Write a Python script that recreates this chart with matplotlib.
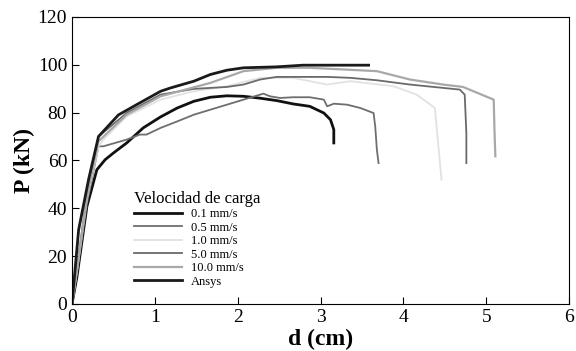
"""Curvas carga-desplazamiento para distintas velocidades de carga."""

import matplotlib

matplotlib.use("Agg")
import matplotlib.pyplot as plt  # noqa: E402

plt.rcParams["font.family"] = ["Liberation Serif", "DejaVu Serif"]

# 0.1 mm/s
d_01 = [0, 0.06, 0.18, 0.30, 0.40, 0.50, 0.66, 0.86, 1.07, 1.27, 1.47, 1.67, 1.87,
        2.07, 2.27, 2.47, 2.67, 2.87, 3.04, 3.12, 3.16, 3.16]
p_01 = [0, 11.4, 40.8, 56.1, 60.3, 63.1, 67.3, 73.6, 78.2, 81.9, 84.7, 86.4, 87.0,
        86.8, 86.0, 85.0, 83.6, 82.6, 79.8, 77.0, 72.9, 67.3]

# 0.5 mm/s
d_05 = [0, 0.06, 0.18, 0.32, 0.38, 0.66, 0.82, 0.90, 1.07, 1.27, 1.47, 1.67, 1.87,
        2.07, 2.31, 2.39, 2.51, 2.67, 2.87, 3.04, 3.08, 3.16, 3.32, 3.48, 3.64,
        3.66, 3.68, 3.70]
p_05 = [0, 13.0, 42.0, 65.9, 65.9, 68.7, 70.8, 70.8, 73.6, 76.3, 79.1, 81.2, 83.3,
        85.4, 87.9, 86.8, 86.1, 86.4, 86.4, 85.4, 82.6, 83.7, 83.3, 81.9, 79.8,
        74.2, 64.5, 58.9]

# 1.0 mm/s
d_10 = [0, 0.06, 0.18, 0.32, 0.38, 0.66, 1.07, 1.47, 1.87, 2.27, 2.67, 3.08, 3.36,
        3.88, 4.16, 4.38, 4.46]
p_10 = [0, 14.0, 44.0, 65.9, 68.7, 78.4, 85.4, 88.9, 91.0, 94.5, 94.5, 91.7, 93.1,
        91.0, 87.5, 81.9, 51.9]

# 5.0 mm/s
d_50 = [0, 0.06, 0.18, 0.32, 0.66, 1.07, 1.47, 1.87, 2.07, 2.27, 2.47, 3.08, 3.36,
        3.68, 4.08, 4.48, 4.68, 4.74, 4.76, 4.76]
p_50 = [0, 15.0, 46.0, 70.0, 79.8, 87.5, 89.9, 90.7, 91.7, 93.8, 94.9, 94.9, 94.5,
        93.5, 91.7, 90.3, 89.6, 87.5, 71.5, 58.9]

# 10.0 mm/s
d_100 = [0, 0.06, 0.18, 0.32, 0.66, 1.07, 1.67, 2.07, 2.47, 2.87, 3.28, 3.68, 4.08,
         4.48, 4.72, 5.09, 5.10, 5.11]
p_100 = [0, 14.0, 45.0, 68.0, 79.1, 86.8, 92.4, 97.3, 98.7, 98.7, 98.0, 97.3, 93.8,
         91.7, 90.7, 85.4, 72.0, 61.7]

# Ansys
d_ans = [0, 0.08, 0.20, 0.32, 0.56, 0.78, 1.07, 1.19, 1.47, 1.67, 1.87, 2.07, 2.47,
         2.79, 3.58]
p_ans = [0, 31.0, 52.0, 70.0, 79.0, 83.3, 88.9, 90.3, 93.1, 95.9, 97.7, 98.7, 99.1,
         99.8, 99.8]

series = [
    ("0.1 mm/s", d_01, p_01, "#111111", 2.0),
    ("0.5 mm/s", d_05, p_05, "#6e6e6e", 1.3),
    ("1.0 mm/s", d_10, p_10, "#e2e2e2", 1.3),
    ("5.0 mm/s", d_50, p_50, "#6a6a6a", 1.3),
    ("10.0 mm/s", d_100, p_100, "#a8a8a8", 1.6),
    ("Ansys", d_ans, p_ans, "#1a1a1a", 2.0),
]

fig = plt.figure(figsize=(5.76, 3.51), dpi=100)
ax = fig.add_axes([0.125, 0.134, 0.863, 0.818])

for label, d, p, color, lw in series:
    ax.plot(d, p, color=color, linewidth=lw, label=label)

ax.set_xlim(0, 6)
ax.set_ylim(0, 120)
ax.set_xticks(range(0, 7))
ax.set_yticks(range(0, 121, 20))
ax.tick_params(direction="in", labelsize=14, length=5)
ax.set_xlabel("d (cm)", fontsize=17, fontweight="bold", labelpad=2)
ax.set_ylabel("P (kN)", fontsize=17, fontweight="bold", labelpad=2)

leg = ax.legend(title="Velocidad de carga", loc="upper left", bbox_to_anchor=(0.124, 0.395),
                frameon=False, fontsize=9, title_fontsize=12, handlelength=3.9,
                handletextpad=0.7, labelspacing=0.12, borderpad=0, borderaxespad=0)
leg._legend_box.align = "left"

fig.savefig("out.png", dpi=100)
